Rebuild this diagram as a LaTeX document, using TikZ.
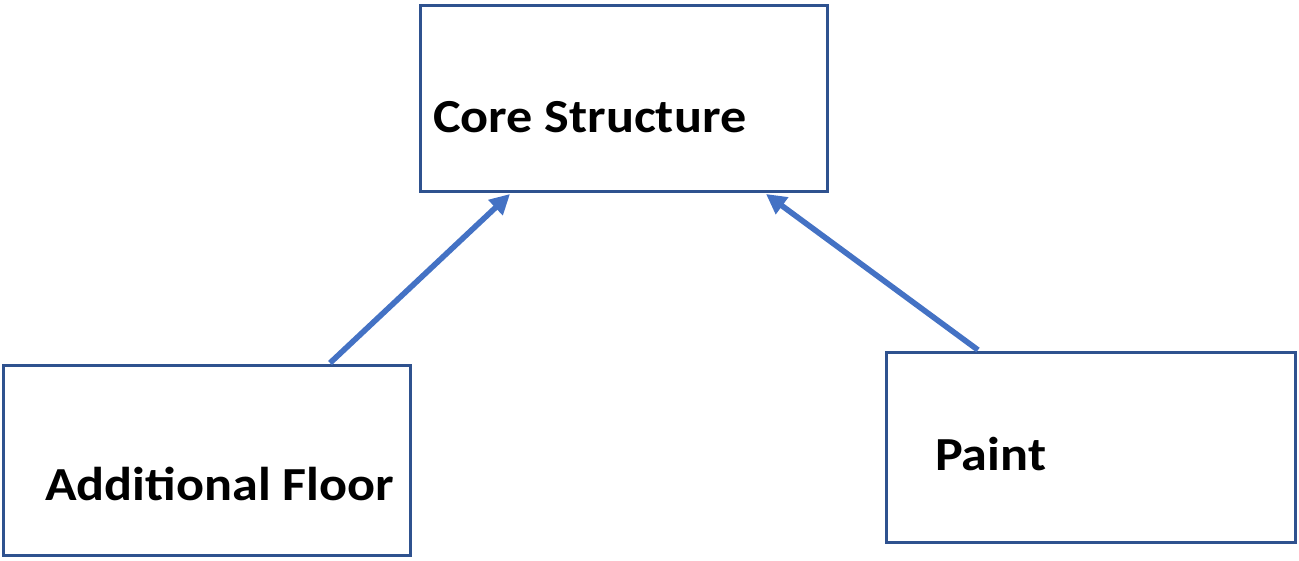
\documentclass[tikz,border=0pt]{standalone}
\usepackage{fontspec}
\setmainfont{Carlito}[FakeStretch=1.1]
\usetikzlibrary{arrows.meta}
\definecolor{boxblue}{RGB}{47, 82, 143}
\definecolor{arrowblue}{RGB}{68, 114, 196}
\tikzset{
    part box/.style={
        rectangle,
        draw=boxblue,
        line width=1.7pt,
        minimum width=8.16cm,
        minimum height=3.8cm
    },
    part label/.style={
        anchor=west,
        font=\fontsize{27}{32}\selectfont\bfseries
    },
    link arrow/.style={
        -{Triangle[length=4mm,width=4mm]},
        line width=3.2pt,
        draw=arrowblue
    }
}
\begin{document}
\begin{tikzpicture}[x=0.02cm, y=-0.02cm]
\useasboundingbox (0,0) rectangle (1299,561);

% Boxes
\node[part box, minimum height=3.74cm] (core) at (624, 98.5) {};
\node[part box] (floor) at (207, 460.5) {};
\node[part box, minimum width=8.2cm] (paint) at (1091, 447.5) {};

% Labels
\node[part label] (coretext) at (427, 117) {Core Structure};
\node[part label] (floortext) at (39, 484) {Additional Floor};
\node[part label] (painttext) at (929, 454) {Paint};

% Arrows
\coordinate (floortop) at (330, 363);
\coordinate (painttop) at (978, 350);
\coordinate (coreleft) at (510, 194);
\coordinate (coreright) at (766, 194);
\draw[link arrow] (floortop) -- (coreleft);
\draw[link arrow] (painttop) -- (coreright);

\end{tikzpicture}
\end{document}
